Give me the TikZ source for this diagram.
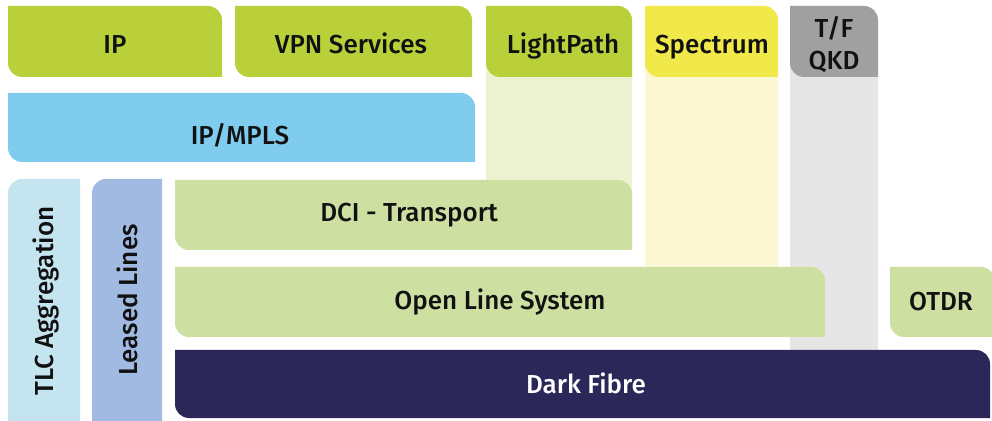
\documentclass[tikz,border=0pt]{standalone}
\usepackage{fontspec}
\setmainfont{Fira Sans}[UprightFont=* Medium]
\definecolor{cgreen}{HTML}{B9D03A}
\definecolor{cblue}{HTML}{80CCEF}
\definecolor{clpcol}{HTML}{EDF2D0}
\definecolor{cyellow}{HTML}{F1E84A}
\definecolor{cspcol}{HTML}{FBF7D2}
\definecolor{cgray}{HTML}{A0A0A0}
\definecolor{cgraycol}{HTML}{E6E6E6}
\definecolor{ctlc}{HTML}{C4E4EF}
\definecolor{cleased}{HTML}{A1BAE1}
\definecolor{clight}{HTML}{CDDFA1}
\definecolor{cdark}{HTML}{2B2759}
\definecolor{ctext}{HTML}{111111}
% \boxshape{x1}{y1}{x2}{y2}{rTL}{rTR}{rBR}{rBL}{colour}
\newcommand{\boxshape}[9]{%
  \fill[#9] ({#1+#8},#2) -- ({#3-#7},#2)
    arc[start angle=270,end angle=360,radius=#7]
    -- (#3,{#4-#6}) arc[start angle=0,end angle=90,radius=#6]
    -- ({#1+#5},#4) arc[start angle=90,end angle=180,radius=#5]
    -- (#1,{#2+#8}) arc[start angle=180,end angle=270,radius=#8] -- cycle;}
\tikzset{
  lbl/.style={anchor=base,inner sep=0pt,text=ctext,font=\fontsize{26}{30}\selectfont},
}
\begin{document}
\begin{tikzpicture}[x=1pt,y=1pt]
\useasboundingbox (0,0) rectangle (992,420);
% column backgrounds
\boxshape{486}{170}{632}{414}{0.01}{14}{0.01}{0.01}{clpcol}
\boxshape{645}{153}{778}{414}{0.01}{14}{0.01}{0.01}{cspcol}
\boxshape{790}{70}{878}{414}{0.01}{14}{0.01}{0.01}{cgraycol}
% top row
\boxshape{8}{343}{222}{414}{0.01}{14}{0.01}{14}{cgreen}
\boxshape{235}{343}{472}{414}{0.01}{14}{0.01}{14}{cgreen}
\boxshape{486}{343}{632}{414}{0.01}{14}{0.01}{14}{cgreen}
\boxshape{645}{343}{778}{414}{0.01}{14}{0.01}{14}{cyellow}
\boxshape{790}{343}{878}{414}{0.01}{14}{0.01}{14}{cgray}
% IP/MPLS
\boxshape{8}{258}{475}{327}{0.01}{14}{0.01}{14}{cblue}
% verticals
\boxshape{8}{-10}{80}{241}{14}{0.01}{0.01}{0.01}{ctlc}
\boxshape{92}{-10}{162}{241}{14}{0.01}{0.01}{0.01}{cleased}
% transport rows
\boxshape{175}{170}{632}{240}{0.01}{14}{0.01}{14}{clight}
\boxshape{175}{83}{825}{153}{0.01}{14}{0.01}{14}{clight}
\boxshape{890}{83}{995}{153}{0.01}{14}{0.01}{14}{clight}
\boxshape{175}{2}{990}{70}{0.01}{14}{0.01}{14}{cdark}
% labels
\node[lbl] (ip) at (115,366) {IP};
\node[lbl] (vpn) at (351,366) {VPN Services};
\node[lbl] (lp) at (563,366) {LightPath};
\node[lbl] (sp) at (712,366) {Spectrum};
\node[lbl] (tf) at (834,382) {T/F};
\node[lbl] (qkd) at (834,350) {QKD};
\node[lbl] (mpls) at (240,275) {IP/MPLS};
\node[lbl,rotate=90] (tlc) at (53,119) {TLC Aggregation};
\node[lbl,rotate=90] (ll) at (137,120) {Leased Lines};
\node[lbl] (dci) at (409,198) {DCI - Transport};
\node[lbl] (ols) at (500,110) {Open Line System};
\node[lbl] (otdr) at (941,109) {OTDR};
\node[lbl,text=white] (df) at (586,27) {Dark Fibre};
\end{tikzpicture}
\end{document}
